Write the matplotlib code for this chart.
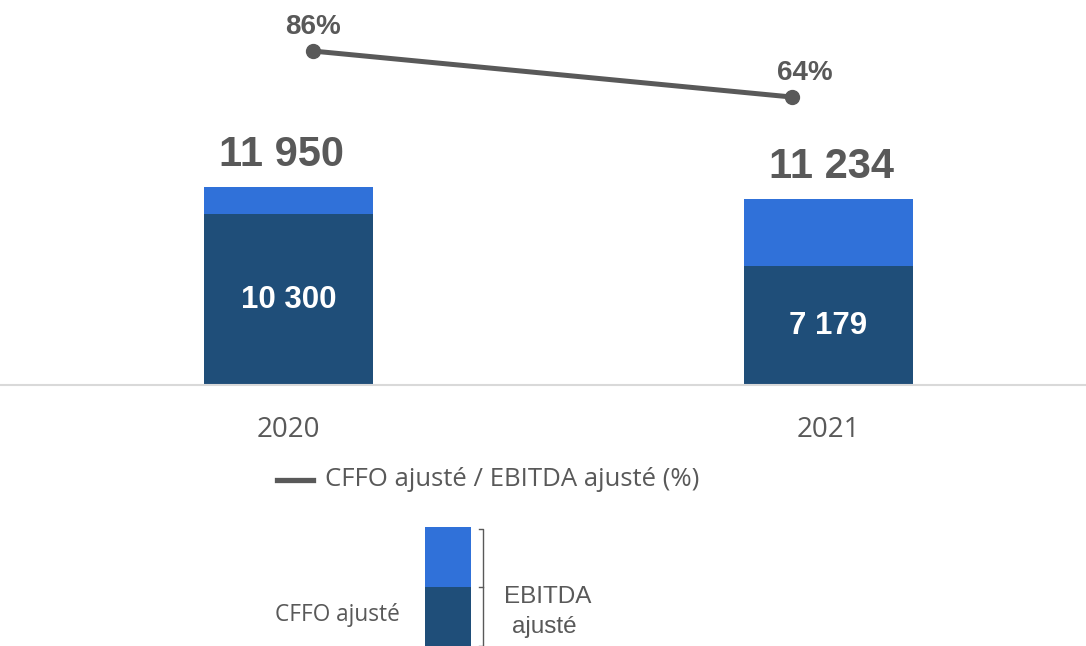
import matplotlib
matplotlib.use("Agg")
import matplotlib.pyplot as plt
from matplotlib.patches import Rectangle

years = ["2020", "2021"]
cffo = [10300, 7179]
ebitda = [11950, 11234]
ratio = [86, 64]

dark = "#1F4E79"
light = "#3071D9"
grey = "#595959"

def fmt(v):
    return f"{v:,}".replace(",", " ")

fig = plt.figure(figsize=(10.86, 6.46), dpi=100)

# bars
ax = fig.add_axes([0, 261/646, 1, 385/646])
x = range(len(years))
rest = [e - c for e, c in zip(ebitda, cffo)]
ax.bar(x, cffo, width=0.313, color=dark)
ax.bar(x, rest, bottom=cffo, width=0.313, color=light)
ax.set_xlim(-0.534, 1.477)
ax.set_ylim(0, 23235)
for s in ["top", "right", "left"]:
    ax.spines[s].set_visible(False)
ax.spines["bottom"].set_color("#D9D9D9")
ax.spines["bottom"].set_linewidth(1.5)
ax.set_yticks([])
ax.set_xticks(list(x))
ax.set_xticklabels(years, fontsize=20, color=grey, family="Open Sans")
ax.tick_params(axis="x", length=0, pad=22)

for i in x:
    ax.text(i, cffo[i] / 2, fmt(cffo[i]), ha="center", va="center", color="white",
            fontsize=22.5, fontweight="bold", family="Liberation Sans")
    ax.annotate(fmt(ebitda[i]), (i, ebitda[i]), xytext=(-5 if i == 0 else 2, 23),
                textcoords="offset points", ha="center", va="center", color=grey,
                fontsize=30, fontweight="bold", family="Liberation Sans")

# ratio line
ax2 = fig.add_axes([0, 261/646, 1, 385/646])
ax2.patch.set_visible(False)
ax2.plot(x, ratio, color=grey, lw=3.6, marker="o", markersize=10)
ax2.set_xlim(-0.653, 1.614)
ax2.set_ylim(-73.7, 110.4)
ax2.axis("off")
offs = [(0, 17.5), (9, 17)]
for i in x:
    ax2.annotate(f"{ratio[i]}%", (i, ratio[i]), xytext=offs[i], textcoords="offset points",
                 ha="center", va="center", color=grey, fontsize=20, fontweight="bold",
                 family="Liberation Sans")

# legend drawn in pixel space
lg = fig.add_axes([0, 0, 1, 1], zorder=-1)
lg.set_xlim(0, 1086)
lg.set_ylim(646, 0)
lg.axis("off")
lg.plot([277, 313], [480, 480], color=grey, lw=3.8)
lg.text(325, 480, "CFFO ajusté / EBITDA ajusté (%)", va="center", ha="left",
        fontsize=18.5, color=grey, family="Open Sans")
lg.add_patch(Rectangle((425, 527), 46, 60, color=light, lw=0))
lg.add_patch(Rectangle((425, 587), 46, 60, color=dark, lw=0))
lg.plot([479, 483, 483, 479], [529, 529, 646, 646], color=grey, lw=1)
lg.plot([483, 479], [587, 587], color=grey, lw=1)
lg.text(275, 615, "CFFO ajusté", va="center", ha="left", fontsize=16.3,
        color=grey, family="Open Sans")
lg.text(548, 597, "EBITDA", va="center", ha="center", fontsize=17.5,
        color=grey, family="Liberation Sans")
lg.text(544, 627, "ajusté", va="center", ha="center", fontsize=17.5,
        color=grey, family="Liberation Sans")

fig.savefig("out.png", dpi=100)
